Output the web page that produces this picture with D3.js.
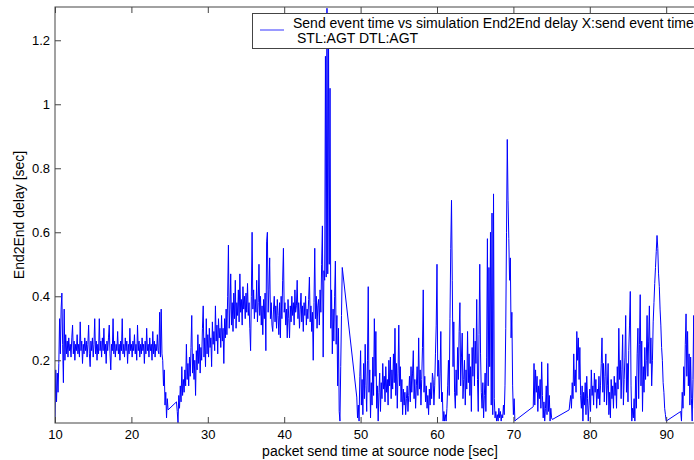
<!DOCTYPE html>
<html><head><meta charset="utf-8">
<script src="https://cdn.jsdelivr.net/npm/d3@7"></script>
<style>
body{margin:0;background:#fff}
text{font-family:Arial,"Liberation Sans",Helvetica,sans-serif;fill:#000}
</style>
</head><body>
<svg id="chart" width="694" height="460"></svg>
<script>
// ---- data ----
const xTicks = [10,20,30,40,50,60,70,80,90];
const yTicks = [0.2,0.4,0.6,0.8,1,1.2];
const yTickLabels = ["0.2","0.4","0.6","0.8","1","1.2"];
const xLabel = "packet send time at source node [sec]";
const yLabel = "End2End delay [sec]";
const legendLine1 = "Send event time vs simulation End2End delay X:send event time";
const legendLine2 = "STL:AGT DTL:AGT";
const sendInterval = 0.1; // packets sent every 0.1 s

const seg1Start = 10.0;
const seg1Delays = [
 0.01,0.17,0.07,0.16,0.10,0.19,0.33,0.22,0.36,0.41,
 0.25,0.13,0.36,0.20,0.28,0.22,0.26,0.21,0.27,0.23,
 0.25,0.21,0.27,0.31,0.22,0.26,0.20,0.25,0.23,0.28,
 0.22,0.25,0.21,0.32,0.23,0.26,0.19,0.25,0.22,0.27,
 0.23,0.26,0.21,0.25,0.31,0.22,0.18,0.26,0.23,0.27,
 0.21,0.25,0.33,0.22,0.26,0.20,0.25,0.22,0.33,0.23,
 0.26,0.21,0.27,0.23,0.30,0.22,0.25,0.19,0.26,0.23,
 0.27,0.31,0.22,0.17,0.25,0.23,0.33,0.22,0.26,0.21,
 0.25,0.23,0.29,0.22,0.25,0.20,0.26,0.23,0.33,0.22,
 0.25,0.21,0.27,0.23,0.26,0.19,0.25,0.22,0.30,0.23,
 0.25,0.21,0.26,0.23,0.28,0.22,0.25,0.20,0.31,0.23,
 0.26,0.21,0.25,0.22,0.27,0.23,0.25,0.19,0.26,0.22,
 0.30,0.23,0.25,0.21,0.27,0.23,0.25,0.20,0.29,0.22,
 0.26,0.21,0.25,0.23,0.28,0.23,0.22,0.35,0.21,0.36,
 0.22,0.20,0.12,0.17,0.06,0.10,0.02,0.08,0.045
];
const seg2Start = 25.9;
const seg2Delays = [
 0.07,
 0.04,0.005,0.09,0.05,0.12,0.07,0.18,0.09,0.14,0.10,
 0.17,0.12,0.25,0.14,0.19,0.12,0.21,0.15,0.24,0.34,
 0.16,0.22,0.14,0.20,0.09,0.23,0.17,0.28,0.19,0.25,
 0.16,0.24,0.20,0.30,0.37,0.21,0.27,0.18,0.33,0.22,
 0.28,0.21,0.30,0.24,0.27,0.18,0.32,0.25,0.29,0.23,
 0.37,0.26,0.31,0.22,0.33,0.27,0.30,0.24,0.34,0.26,
 0.30,0.19,0.33,0.27,0.36,0.28,0.40,0.56,0.30,0.36,
 0.47,0.31,0.38,0.29,0.41,0.33,0.45,0.30,0.38,0.34,
 0.42,0.32,0.47,0.35,0.39,0.31,0.43,0.36,0.40,0.33,
 0.41,0.35,0.44,0.34,0.38,0.30,0.23,0.40,0.60,0.36,
 0.42,0.33,0.39,0.35,0.45,0.32,0.38,0.50,0.34,0.40,
 0.31,0.37,0.28,0.39,0.33,0.41,0.23,0.57,0.60,0.35,
 0.42,0.52,0.33,0.38,0.31,0.29,0.36,0.40,0.32,0.37,
 0.30,0.39,0.34,0.28,0.38,0.27,0.40,0.33,0.45,0.55,
 0.35,0.38,0.31,0.36,0.27,0.39,0.33,0.27,0.37,0.32,
 0.40,0.34,0.38,0.31,0.42,0.35,0.37,0.45,0.33,0.38,
 0.30,0.36,0.41,0.32,0.37,0.29,0.38,0.34,0.40,0.31,
 0.36,0.33,0.39,0.46,0.32,0.37,0.29,0.35,0.20,0.38,
 0.55,0.33,0.40,0.30,0.37,0.39,0.31,0.42,0.35,0.50,
 0.62,0.21,0.48,0.45,1.15,0.46,1.30,0.47,1.24,0.50,
 1.05,0.30,0.42,0.22,0.36,0.26,0.40,0.51,0.25,0.34,
 0.12,0.30,0.04,0.01,0.18,0.34,0.49
];
const seg3Start = 49.5;
const seg3Delays = [
 0.085,0.02,0.06,0.01,0.15,
 0.23,0.06,0.14,0.03,0.19,0.08,0.25,0.12,0.04,0.20,
 0.43,0.10,0.17,0.02,0.13,0.06,0.21,0.09,0.33,0.15,
 0.29,0.05,0.12,0.01,0.10,0.16,0.04,0.13,0.08,0.19,
 0.11,0.15,0.07,0.18,0.10,0.14,0.06,0.20,0.12,0.21,
 0.08,0.17,0.11,0.22,0.13,0.30,0.09,0.19,0.05,0.16,
 0.31,0.12,0.18,0.07,0.14,0.03,0.11,0.06,0.10,0.03,
 0.08,0.12,0.04,0.09,0.15,0.07,0.18,0.10,0.16,0.23,
 0.08,0.14,0.05,0.12,0.18,0.09,0.27,0.11,0.17,0.06,
 0.14,0.24,0.42,0.10,0.15,0.07,0.12,0.05,0.09,0.03,
 0.11,0.06,0.13,0.08,0.16,0.14,0.06,0.12,0.22,0.31,
 0.50,0.15,0.20,0.08,0.16,0.29,0.07,0.10,0.01,0.04,
 0.01,0.03,0.01,0.05,0.12,0.20,0.09,0.33,0.55,0.70,
 0.45,0.18,0.32,0.10,0.05,0.17,0.09,0.24,0.14,0.29,
 0.38,0.12,0.21,0.285,0.08,0.14,0.20,0.06,0.17,0.11,
 0.29,0.13,0.22,0.09,0.18,0.04,0.24,0.15,0.30,0.12,
 0.26,0.19,0.39,0.14,0.04,0.28,0.50,0.22,0.10,0.05,
 0.13,0.02,0.09,0.16,0.04,0.21,0.58,0.12,0.49,0.18,
 0.60,0.06,0.66,0.03,0.72,0.08,0.02,0.04,0.01,0.03,
 0.01,0.05,0.02,0.04,0.01,0.03,0.02,0.06,0.03,0.12,
 0.30,0.60,0.89,0.70,0.58,0.45,0.52,0.27,0.35,0.12,
 0.03,0.08,0.01,0.013
];
const seg4Start = 72.6;
const seg4Delays = [
 0.055,0.19,0.06,0.17,0.10,0.15,0.04,0.12,0.08,0.14,
 0.05,0.195,0.09,0.02,0.07,0.01,0.05,0.12,0.03,0.19,
 0.04,0.09,0.01,0.05,0.02,0.015
];
const seg5Start = 77.3;
const seg5Delays = [
 0.045,0.07,0.09,0.05,0.13,0.08,0.22,
 0.12,0.17,0.10,0.29,0.20,0.27,0.14,0.24,0.09,0.05,
 0.12,0.01,0.10,0.06,0.13,0.03,0.15,0.08,0.01,0.06,
 0.11,0.04,0.17,0.09,0.12,0.06,0.16,0.10,0.14,0.05,
 0.11,0.08,0.15,0.06,0.12,0.19,0.27,0.10,0.19,0.07,
 0.15,0.22,0.06,0.12,0.19,0.03,0.10,0.02,0.14,0.08,
 0.12,0.05,0.15,0.09,0.13,0.05,0.18,0.11,0.30,0.14,
 0.20,0.08,0.17,0.28,0.06,0.14,0.21,0.34,0.10,0.19,
 0.07,0.23,0.31,0.415,0.12,0.01,0.05,0.02,0.08,0.01,
 0.15,0.05,0.22,0.30,0.08,0.25,0.405,0.12,0.26,0.04,
 0.18,0.10,0.24,0.14,0.20,0.34,0.15,0.26,0.37,0.19,
 0.27,0.12,0.20,0.32,0.38,0.44,0.49,0.54,0.59,0.55,
 0.47,0.43,0.36,0.31,0.24,0.20,0.13,0.10,0.05,0.03,
 0.01
];
const seg6Start = 91.9;
const seg6Delays = [
 0.04,0.01,0.10,0.05,0.18,0.09,0.25,0.345,0.15,0.29,
 0.12,0.22,0.06,0.21,0.08,0.01,0.14,0.34,0.05,0.18
];

const segments = [
  [seg1Start, seg1Delays],[seg2Start, seg2Delays],[seg3Start, seg3Delays],
  [seg4Start, seg4Delays],[seg5Start, seg5Delays],[seg6Start, seg6Delays]
];
const points = [];
segments.forEach(([t0, arr]) => arr.forEach((v, i) => points.push({t: t0 + i * sendInterval, v})));

// ---- layout ----
const L = 55, R = 705, T = 7, B = 423;
const svg = d3.select("#chart");
const x = d3.scaleLinear().domain([10, 95.08]).range([L, R]);
const y = d3.scaleLinear().domain([0.004, 1.304]).range([B, T]);

svg.append("defs").append("clipPath").attr("id","clip")
  .append("rect").attr("x",L).attr("y",T).attr("width",R-L).attr("height",B-T);

svg.append("path").datum(points)
  .attr("clip-path","url(#clip)")
  .attr("fill","none").attr("stroke","#0000ff").attr("stroke-width",1)
  .attr("stroke-linejoin","miter")
  .attr("d", d3.line().x(d => x(d.t)).y(d => y(d.v)));

const axisColor = "#444";
function styleAxis(g, showText){
  g.select(".domain").remove();
  g.selectAll(".tick line").attr("stroke",axisColor);
  g.selectAll(".tick text").style("font-size","13px")
    .style("font-family","Arial, 'Liberation Sans', sans-serif").attr("fill","#000");
  if(!showText) g.selectAll(".tick text").remove();
}
svg.append("g").attr("transform",`translate(0,${B})`)
  .call(d3.axisBottom(x).tickValues(xTicks).tickSize(-6).tickPadding(7).tickFormat(d3.format("d")))
  .call(g => styleAxis(g, true));
svg.append("g").attr("transform",`translate(0,${T})`)
  .call(d3.axisTop(x).tickValues(xTicks).tickSize(-6))
  .call(g => styleAxis(g, false));
svg.append("g").attr("transform",`translate(${L},0)`)
  .call(d3.axisLeft(y).tickValues(yTicks).tickSize(-6).tickPadding(5).tickFormat((d,i) => yTickLabels[i]))
  .call(g => styleAxis(g, true));
svg.append("g").attr("transform",`translate(${R},0)`)
  .call(d3.axisRight(y).tickValues(yTicks).tickSize(-6))
  .call(g => styleAxis(g, false));

svg.append("rect").attr("x",L).attr("y",T).attr("width",R-L).attr("height",B-T)
  .attr("fill","none").attr("stroke",axisColor).attr("stroke-width",1);

// axis labels
svg.append("text").attr("x",(L+R)/2).attr("y",456).attr("text-anchor","middle")
  .style("font-size","14px").text(xLabel);
svg.append("text").attr("transform",`translate(24,${(T+B)/2}) rotate(-90)`)
  .attr("text-anchor","middle").style("font-size","14px").text(yLabel);

// legend
const lg = svg.append("g");
lg.append("rect").attr("x",252.5).attr("y",13.5).attr("width",450).attr("height",35)
  .attr("fill","#fff").attr("stroke",axisColor).attr("stroke-width",1);
lg.append("line").attr("x1",260).attr("x2",284).attr("y1",30).attr("y2",30)
  .attr("stroke","#0000ff").attr("stroke-width",0.8);
lg.append("text").attr("x",293).attr("y",28).style("font-size","14px").text(legendLine1);
lg.append("text").attr("x",297).attr("y",43).style("font-size","14px").text(legendLine2);
</script>
</body></html>
